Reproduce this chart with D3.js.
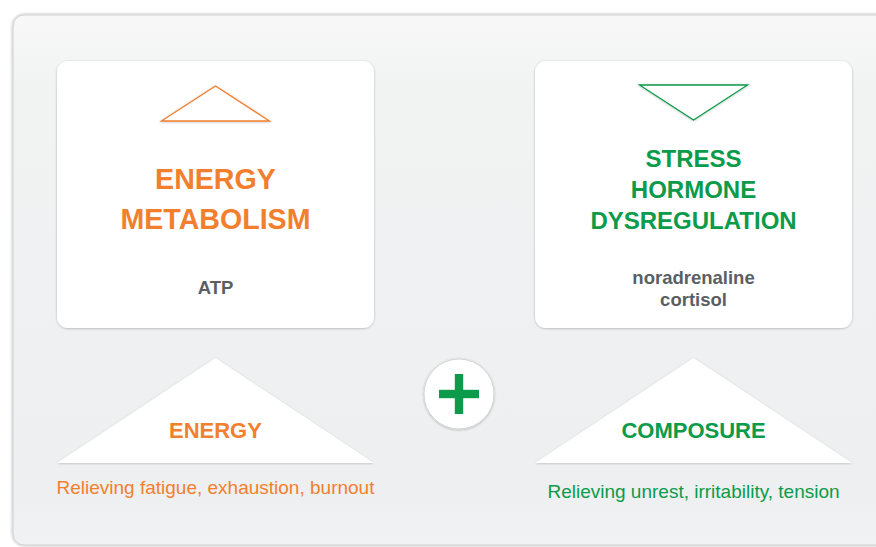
<!DOCTYPE html>
<html>
<head>
<meta charset="utf-8">
<script src="https://cdn.jsdelivr.net/npm/d3@7/dist/d3.min.js"></script>
<style>
  html, body { margin: 0; padding: 0; background: #ffffff; }
  svg { display: block; font-family: "Liberation Sans", Arial, Helvetica, sans-serif; }
</style>
</head>
<body>
<div id="chart"></div>
<script>
// ---- data ----
const columns = ["energy", "stress"];
const cardTitles = [["ENERGY", "METABOLISM"], ["STRESS", "HORMONE", "DYSREGULATION"]];
const cardSubtitles = [["ATP"], ["noradrenaline", "cortisol"]];
const markerDirections = ["up", "down"];
const outcomeLabels = ["ENERGY", "COMPOSURE"];
const outcomeDescriptions = ["Relieving fatigue, exhaustion, burnout", "Relieving unrest, irritability, tension"];
const themeColors = ["#f27f2d", "#0b9b4a"];
const combineSymbol = ["+"];

// ---- layout ----
const W = 876, H = 547;
const svg = d3.select("#chart").append("svg").attr("width", W).attr("height", H);
const defs = svg.append("defs");

const grad = defs.append("linearGradient").attr("id", "panelGrad").attr("x1", 0).attr("y1", 0).attr("x2", 0).attr("y2", 1);
grad.append("stop").attr("offset", "0%").attr("stop-color", "#f8f8f8");
grad.append("stop").attr("offset", "14%").attr("stop-color", "#f1f2f2");
grad.append("stop").attr("offset", "90%").attr("stop-color", "#eeeff0");
grad.append("stop").attr("offset", "100%").attr("stop-color", "#f1f2f3");

function shadow(id, dy, sd, op) {
  const f = defs.append("filter").attr("id", id).attr("x", "-10%").attr("y", "-10%").attr("width", "120%").attr("height", "130%");
  f.append("feDropShadow").attr("dx", 0).attr("dy", dy).attr("stdDeviation", sd)
    .attr("flood-color", "#000").attr("flood-opacity", op);
}
shadow("panelShadow", 0, 1.6, 0.35);
shadow("cardShadow", 0.6, 1.3, 0.28);
shadow("triShadow", 0.6, 1.2, 0.22);
shadow("lineShadow", 0.5, 0.8, 0.25);

// outer panel
svg.append("rect")
  .attr("x", 13).attr("y", 15).attr("width", 940).attr("height", 530).attr("rx", 11)
  .attr("fill", "url(#panelGrad)").attr("stroke", "#cfd0d1").attr("stroke-width", 1)
  .attr("filter", "url(#panelShadow)");

const x = d3.scaleBand().domain(columns).range([57, 852]).paddingInner(0.337).paddingOuter(0);
const bw = x.bandwidth();
const cx = d => x(d) + bw / 2;

// vertical scale for the layout rows
const y = d3.scaleLinear().domain([0, 1]).range([61, 328]);

// cards
const cards = svg.selectAll("g.card").data(columns).join("g").attr("class", "card");
cards.append("rect")
  .attr("x", d => x(d)).attr("y", y(0)).attr("width", bw).attr("height", y(1) - y(0)).attr("rx", 11)
  .attr("fill", "#ffffff").attr("filter", "url(#cardShadow)");

// marker triangles (outline)
const triW = 54, triH = 35;
cards.append("path")
  .attr("d", (d, i) => {
    const c = cx(d);
    if (markerDirections[i] === "up") {
      return `M${c - triW},121 L${c},86 L${c + triW},121 Z`;
    }
    return `M${c - triW},85 L${c + triW},85 L${c},120 Z`;
  })
  .attr("fill", "#ffffff")
  .attr("stroke", (d, i) => themeColors[i]).attr("stroke-width", 1.3).attr("stroke-linejoin", "miter")
  .attr("filter", "url(#lineShadow)");

// titles
cards.each(function(d, i) {
  const g = d3.select(this);
  const lines = cardTitles[i];
  const fs = lines.length > 2 ? 24 : 28.6;
  const lh = lines.length > 2 ? 31.2 : 40.3;
  const lastBase = 229.3;
  lines.forEach((t, k) => {
    g.append("text").attr("x", cx(d)).attr("y", lastBase - (lines.length - 1 - k) * lh)
      .attr("text-anchor", "middle").attr("font-weight", "bold").attr("font-size", fs)
      .attr("fill", themeColors[i]).text(t);
  });
  const subs = cardSubtitles[i];
  subs.forEach((t, k) => {
    g.append("text").attr("x", cx(d)).attr("y", 293.5 - (subs.length - 1) * 10 + k * 22)
      .attr("text-anchor", "middle").attr("font-weight", "bold").attr("font-size", 18.5)
      .attr("fill", "#5b5f64").text(t);
  });
});

// outcome triangles
const outs = svg.selectAll("g.outcome").data(columns).join("g").attr("class", "outcome");
outs.append("path")
  .attr("d", d => `M${x(d)},463 L${cx(d)},358 L${x(d) + bw},463 Z`)
  .attr("fill", "#ffffff").attr("filter", "url(#triShadow)");
outs.append("text")
  .attr("x", d => cx(d)).attr("y", 437.5)
  .attr("text-anchor", "middle").attr("font-weight", "bold").attr("font-size", 22)
  .attr("fill", (d, i) => themeColors[i]).text((d, i) => outcomeLabels[i]);
const descY = [494, 498];
outs.append("text")
  .attr("x", d => cx(d)).attr("y", (d, i) => descY[i])
  .attr("text-anchor", "middle").attr("font-size", 19)
  .attr("fill", (d, i) => themeColors[i]).text((d, i) => outcomeDescriptions[i]);

// plus circle
const pc = { x: 459, y: 394, r: 35 };
const plus = svg.selectAll("g.plus").data(combineSymbol).join("g").attr("class", "plus");
plus.append("circle").attr("cx", pc.x).attr("cy", pc.y).attr("r", pc.r)
  .attr("fill", "#ffffff").attr("stroke", "#d4d5d6").attr("stroke-width", 1)
  .attr("filter", "url(#cardShadow)");
plus.append("rect").attr("x", pc.x - 20).attr("y", pc.y - 4.2).attr("width", 40).attr("height", 8.4).attr("fill", themeColors[1]);
plus.append("rect").attr("x", pc.x - 4.2).attr("y", pc.y - 20).attr("width", 8.4).attr("height", 40).attr("fill", themeColors[1]);
</script>
</body>
</html>
